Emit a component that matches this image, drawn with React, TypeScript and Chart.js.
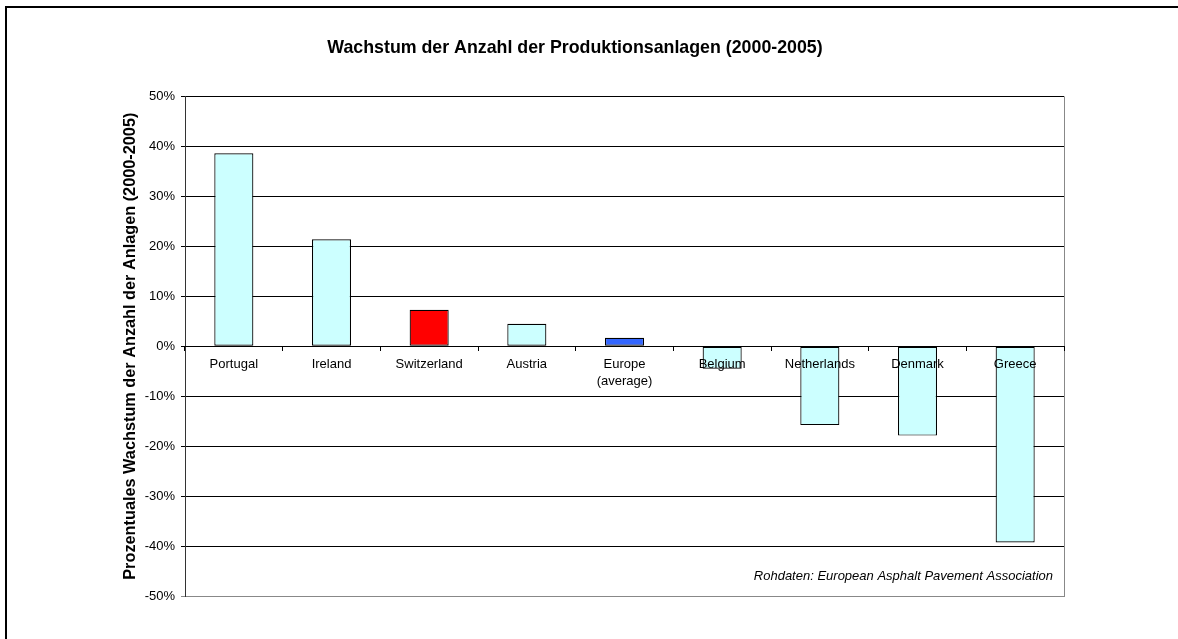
import { useEffect, useRef } from 'react';
import { Chart, registerables } from 'chart.js';

Chart.register(...registerables);

// ---- data ----
const categories: (string | string[])[] = [
  'Portugal',
  'Ireland',
  'Switzerland',
  'Austria',
  ['Europe', '(average)'],
  'Belgium',
  'Netherlands',
  'Denmark',
  'Greece',
];
const growthPercent = [38.6, 21.4, 7.3, 4.5, 1.7, -4.5, -15.8, -17.9, -39.3];
const barColors = ['#CCFFFF', '#CCFFFF', '#FF0000', '#CCFFFF', '#3366FF', '#CCFFFF', '#CCFFFF', '#CCFFFF', '#CCFFFF'];
const yMin = -50;
const yMax = 50;
const yStep = 10;

const chartTitle = 'Wachstum der Anzahl der Produktionsanlagen (2000-2005)';
const yAxisTitle = 'Prozentuales Wachstum der Anzahl der Anlagen (2000-2005)';
const sourceNote = 'Rohdaten: European Asphalt Pavement Association';

const FONT = '"Liberation Sans", Arial, Helvetica, sans-serif';

const plotFramePlugin = {
  id: 'plotFrame',
  afterDatasetsDraw(chart: any) {
    const { ctx, chartArea } = chart;
    ctx.save();
    ctx.strokeStyle = '#888888';
    ctx.lineWidth = 1;
    const r = Math.round(chartArea.right) + 0.5;
    ctx.beginPath();
    ctx.moveTo(r, chartArea.top);
    ctx.lineTo(r, chartArea.bottom + 1);
    ctx.stroke();
    ctx.fillStyle = '#000';
    ctx.font = `italic 13px ${FONT}`;
    ctx.textAlign = 'right';
    ctx.textBaseline = 'middle';
    ctx.fillText(sourceNote, chartArea.right - 11, chartArea.bottom - 20);
    ctx.restore();
  },
};

export default function App() {
  const canvasRef = useRef<HTMLCanvasElement | null>(null);

  useEffect(() => {
    const canvas = canvasRef.current;
    if (!canvas) return;
    const chart = new Chart(canvas, {
      type: 'bar',
      data: {
        labels: categories,
        datasets: [
          {
            data: growthPercent,
            backgroundColor: barColors,
            borderColor: '#000000',
            borderWidth: 1.2,
            borderSkipped: false,
            categoryPercentage: 1,
            barPercentage: 0.4,
          },
        ],
      },
      options: {
        responsive: false,
        animation: false,
        devicePixelRatio: 1,
        layout: { padding: { left: 86, right: 114, top: 0, bottom: 43 } },
        plugins: {
          legend: { display: false },
          tooltip: { enabled: false },
          title: {
            display: true,
            text: chartTitle,
            color: '#000',
            font: { family: FONT, size: 17.8, weight: 'bold' },
            padding: { top: 37, bottom: 38 },
          },
        },
        scales: {
          x: {
            type: 'category',
            position: { y: 0 } as any,
            grid: {
              display: true,
              drawOnChartArea: false,
              drawTicks: true,
              tickLength: 4,
              color: '#000',
              z: 1,
            },
            border: { display: true, color: '#000', width: 1, z: 1 },
            ticks: {
              color: '#000',
              padding: 5,
              maxRotation: 0,
              autoSkip: false,
              z: 1,
              font: { family: FONT, size: 13, lineHeight: 1.35 },
            },
          },
          y: {
            min: yMin,
            max: yMax,
            afterFit: (scale: any) => {
              scale.width = 99;
            },
            grid: {
              color: (ctx: any) => (ctx.tick && ctx.tick.value === yMin ? '#888888' : '#000000'),
              tickLength: 4,
              drawTicks: true,
            },
            border: { display: true, color: '#333', width: 1 },
            ticks: {
              stepSize: yStep,
              color: '#000',
              padding: 6,
              font: { family: FONT, size: 13 },
              callback: (v: any) => `${v}%`,
            },
            title: {
              display: true,
              text: yAxisTitle,
              color: '#000',
              font: { family: FONT, size: 16.3, weight: 'bold' },
              padding: { top: 35, bottom: 0 },
            },
          },
        },
      },
      plugins: [plotFramePlugin],
    });
    return () => chart.destroy();
  }, []);

  return (
    <div
      style={{
        position: 'fixed',
        left: 0,
        top: 0,
        width: 1178,
        height: 639,
        overflow: 'hidden',
        background: '#fff',
      }}
    >
      <div
        style={{
          position: 'absolute',
          left: 5,
          top: 6,
          width: 1400,
          height: 900,
          border: '2px solid #000',
          boxSizing: 'border-box',
        }}
      />
      <canvas
        ref={canvasRef}
        width={1178}
        height={639}
        style={{ position: 'absolute', left: 0, top: 0, display: 'block' }}
      />
    </div>
  );
}
